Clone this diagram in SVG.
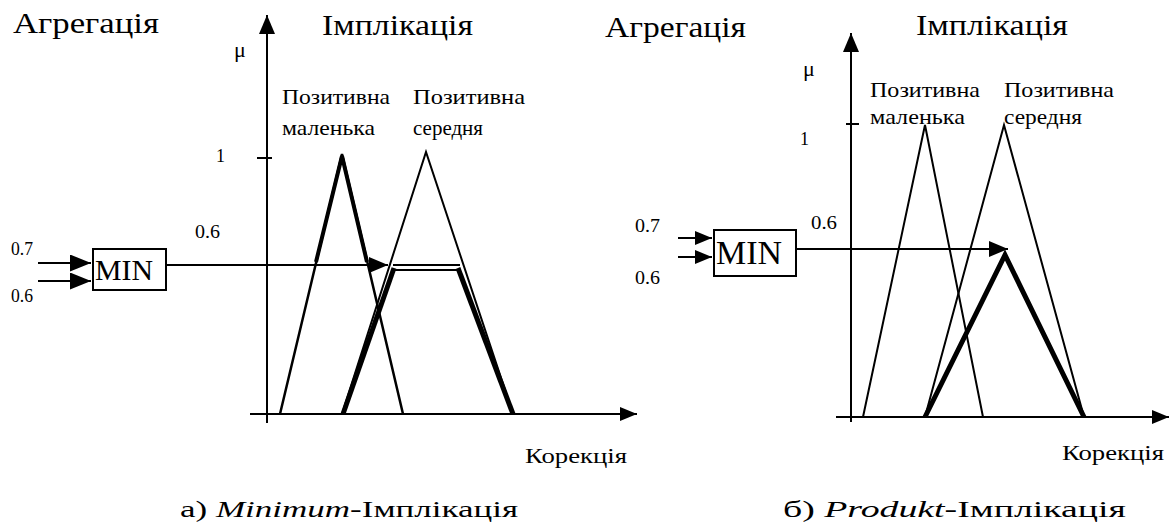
<svg xmlns="http://www.w3.org/2000/svg" width="1173" height="525" viewBox="0 0 1173 525">
<defs>
<style>
.t{font-size:30px}
.l{font-size:22px}
.n{font-size:18px}
.m{font-size:30px}
.c{font-size:24px}
.ln{stroke:#000;stroke-width:2;fill:none}
.th{stroke:#000;stroke-width:2.5;fill:none}
.tk{stroke:#000;stroke-width:4;fill:none;stroke-linejoin:miter}
.bd{stroke:#000;stroke-width:5;fill:none}
.box{stroke:#000;stroke-width:2;fill:#fff}
</style>
<marker id="ah" markerUnits="userSpaceOnUse" markerWidth="21" markerHeight="17" refX="21" refY="8.5" orient="auto"><path d="M0,0 L21,8.5 L0,17 z" fill="#000"/></marker>
<marker id="ax" markerUnits="userSpaceOnUse" markerWidth="19" markerHeight="16" refX="19" refY="8" orient="auto"><path d="M0,0 L19,8 L0,16 z" fill="#000"/></marker>
<marker id="as" markerUnits="userSpaceOnUse" markerWidth="17" markerHeight="14" refX="17" refY="7" orient="auto"><path d="M0,0 L17,7 L0,14 z" fill="#000"/></marker>
</defs>
<rect width="1173" height="525" fill="#fff"/>

<g font-family="Liberation Serif, Times New Roman, Tinos, serif" fill="#000">

<g id="panel-a">
<text class="t" x="13" y="33" textLength="146" lengthAdjust="spacingAndGlyphs">Агрегація</text>
<text class="t" x="322" y="35" textLength="151" lengthAdjust="spacingAndGlyphs">Імплікація</text>
<text class="l" x="234" y="57">μ</text>
<text class="n" x="216" y="162">1</text>
<text class="n" x="195" y="238" textLength="25" lengthAdjust="spacingAndGlyphs">0.6</text>
<text class="n" x="11" y="255" textLength="22" lengthAdjust="spacingAndGlyphs">0.7</text>
<text class="n" x="11" y="302" textLength="22" lengthAdjust="spacingAndGlyphs">0.6</text>
<text class="l" x="282" y="104" textLength="108" lengthAdjust="spacingAndGlyphs">Позитивна</text>
<text class="l" x="282" y="135" textLength="93" lengthAdjust="spacingAndGlyphs">маленька</text>
<text class="l" x="413" y="104" textLength="112" lengthAdjust="spacingAndGlyphs">Позитивна</text>
<text class="l" x="413" y="135" textLength="70" lengthAdjust="spacingAndGlyphs">середня</text>
<text class="l" x="525" y="463" textLength="102" lengthAdjust="spacingAndGlyphs">Корекція</text>
<g id="axes-a">
<line class="ln" x1="267" y1="423" x2="267" y2="15" marker-end="url(#ax)"/>
<line class="ln" x1="250" y1="414" x2="637" y2="414" marker-end="url(#as)"/>
<line class="ln" x1="257" y1="158" x2="272" y2="158"/>
</g>
<g id="min-a">
<rect class="box" x="93" y="249" width="73" height="41"/>
<text class="m" x="95" y="280" textLength="58" lengthAdjust="spacingAndGlyphs">MIN</text>
</g>
<g id="sets-a">
<polyline class="th" points="280,414 342,154 403,414"/>
<polyline class="tk" points="316,262 342,156 367,262"/>
<polyline class="ln" points="342,414 426,152 513,414"/>
<line class="bd" x1="343" y1="414" x2="394" y2="268"/>
<line class="bd" x1="458" y1="268" x2="513" y2="414"/>
<line class="ln" x1="393" y1="265" x2="460" y2="265"/>
<line class="ln" x1="393" y1="270" x2="460" y2="270"/>
</g>
</g>

<g id="panel-b">
<text class="t" x="605" y="37" textLength="141" lengthAdjust="spacingAndGlyphs">Агрегація</text>
<text class="t" x="916" y="35" textLength="152" lengthAdjust="spacingAndGlyphs">Імплікація</text>
<text class="l" x="803" y="76">μ</text>
<text class="n" x="800" y="145">1</text>
<text class="n" x="811" y="229" textLength="26" lengthAdjust="spacingAndGlyphs">0.6</text>
<text class="n" x="635" y="232" textLength="25" lengthAdjust="spacingAndGlyphs">0.7</text>
<text class="n" x="635" y="284" textLength="25" lengthAdjust="spacingAndGlyphs">0.6</text>
<text class="l" x="870" y="97" textLength="110" lengthAdjust="spacingAndGlyphs">Позитивна</text>
<text class="l" x="870" y="124" textLength="95" lengthAdjust="spacingAndGlyphs">маленька</text>
<text class="l" x="1004" y="97" textLength="110" lengthAdjust="spacingAndGlyphs">Позитивна</text>
<text class="l" x="1004" y="124" textLength="78" lengthAdjust="spacingAndGlyphs">середня</text>
<text class="l" x="1062" y="460" textLength="102" lengthAdjust="spacingAndGlyphs">Корекція</text>
<g id="axes-b">
<line class="ln" x1="851" y1="422" x2="851" y2="33" marker-end="url(#ax)"/>
<line class="ln" x1="836" y1="417" x2="1169" y2="417" marker-end="url(#as)"/>
<line class="ln" x1="846" y1="124" x2="859" y2="124"/>
</g>
<g id="min-b">
<rect class="box" x="714" y="230" width="82" height="46"/>
<text class="m" x="716" y="264" textLength="66" lengthAdjust="spacingAndGlyphs" style="font-size:33px">MIN</text>
</g>
<g id="sets-b">
<polyline class="ln" points="863,417 925,125 983,417"/>
<polyline class="ln" points="925,417 1004,125 1084,417"/>
<polyline class="bd" points="925,417 1005,255 1084,417"/>
</g>
</g>

<g id="captions">
<text class="c" x="180" y="517" textLength="338" lengthAdjust="spacingAndGlyphs">а) <tspan font-style="italic">Minimum</tspan>-Імплікація</text>
<text class="c" x="783" y="517" textLength="343" lengthAdjust="spacingAndGlyphs">б) <tspan font-style="italic">Produkt</tspan>-Імплікація</text>
</g>
</g>

<g id="connectors">
<line class="ln" x1="38" y1="263" x2="91" y2="263" marker-end="url(#ah)"/>
<line class="ln" x1="38" y1="281" x2="91" y2="281" marker-end="url(#ah)"/>
<line class="ln" x1="166" y1="265" x2="388" y2="265" marker-end="url(#ax)"/>
<line class="ln" x1="678" y1="238" x2="712" y2="238" marker-end="url(#as)"/>
<line class="ln" x1="678" y1="257" x2="712" y2="257" marker-end="url(#as)"/>
<line class="ln" x1="797" y1="249" x2="1008" y2="249" marker-end="url(#ax)"/>
</g>
</svg>
